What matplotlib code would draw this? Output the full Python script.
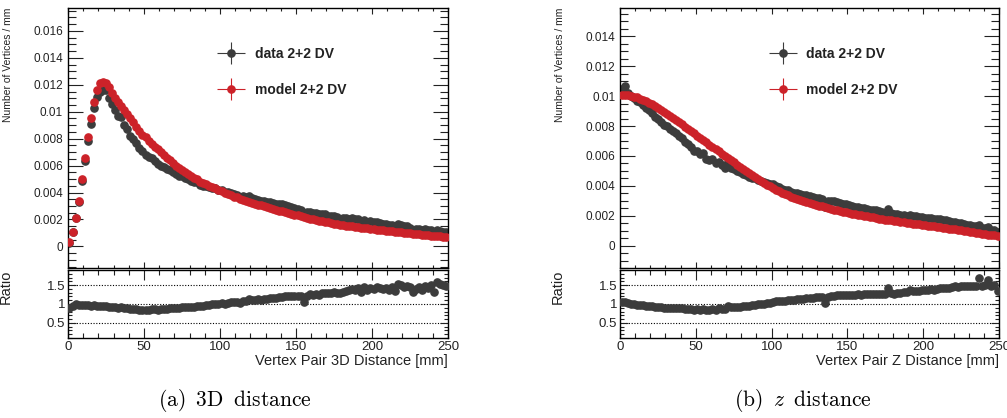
import numpy as np
import matplotlib
matplotlib.use("Agg")
import matplotlib.pyplot as plt
from matplotlib.ticker import MultipleLocator, FuncFormatter
from matplotlib.legend_handler import HandlerErrorbar

# bin centres, 2 mm bins from 0 to 250 mm
bin_centres = list(range(1, 250, 2))
bin_half = 1.0

# (a) 3D distance
model_3d = [
    0.0003, 0.0011, 0.0021, 0.0034, 0.0050, 0.0066, 0.0081, 0.0095, 0.0107, 0.0116,
    0.0121, 0.0122, 0.0121, 0.0118, 0.0114, 0.0110, 0.0107, 0.0104, 0.0101, 0.0098,
    0.0095, 0.0092, 0.0089, 0.0086, 0.0083, 0.0081, 0.0078, 0.0076, 0.0074, 0.0072,
    0.0070, 0.0068, 0.0066, 0.0064, 0.0062, 0.0060, 0.0058, 0.0057, 0.0055, 0.0054,
    0.0052, 0.0051, 0.0050, 0.0048, 0.0047, 0.0046, 0.0045, 0.0044, 0.0043, 0.0042,
    0.0041, 0.0040, 0.0039, 0.0038, 0.0037, 0.00365, 0.00355, 0.00347, 0.0034, 0.00332,
    0.00325, 0.00318, 0.00311, 0.00304, 0.00297, 0.0029, 0.00284, 0.00278, 0.00272, 0.00266,
    0.00262, 0.00255, 0.00248, 0.00242, 0.00236, 0.0023, 0.00224, 0.00218, 0.00212, 0.00207,
    0.00202, 0.00197, 0.00192, 0.00187, 0.00182, 0.00178, 0.00174, 0.0017, 0.00166, 0.00162,
    0.00158, 0.00155, 0.00152, 0.00149, 0.00146, 0.00143, 0.0014, 0.00137, 0.00134, 0.00131,
    0.00128, 0.00125, 0.00122, 0.0012, 0.00117, 0.00115, 0.00112, 0.0011, 0.00107, 0.00105,
    0.00102, 0.001, 0.00097, 0.00095, 0.00093, 0.0009, 0.00088, 0.00086, 0.00084, 0.00081,
    0.00079, 0.00077, 0.00075, 0.00073, 0.00071,
]
data_3d = [
    0.00027, 0.00105, 0.0021, 0.0033, 0.00485, 0.00635, 0.00785, 0.0091, 0.0103, 0.0111,
    0.0115, 0.0116, 0.0116, 0.0110, 0.0106, 0.0101, 0.0097, 0.0096, 0.0090, 0.0087,
    0.0082, 0.0080, 0.00765, 0.0073, 0.00705, 0.0068, 0.00665, 0.00655, 0.00635, 0.0061,
    0.0060, 0.0059, 0.00575, 0.00565, 0.0055, 0.0054, 0.0052, 0.0052, 0.00505, 0.0050,
    0.00485, 0.00475, 0.00475, 0.00455, 0.0045, 0.00445, 0.0044, 0.00435, 0.0043, 0.0042,
    0.00418, 0.00405, 0.00405, 0.0040, 0.00388, 0.0038, 0.00366, 0.00371, 0.00367, 0.00372,
    0.00358, 0.0035, 0.00348, 0.0034, 0.00336, 0.00331, 0.00327, 0.00325, 0.00316, 0.00314,
    0.00312, 0.00306, 0.0030, 0.0029, 0.00288, 0.00281, 0.00269, 0.00229, 0.00259, 0.00259,
    0.0025, 0.00248, 0.0024, 0.00239, 0.00237, 0.00228, 0.00226, 0.00224, 0.00216, 0.00207,
    0.0021, 0.00209, 0.00207, 0.00209, 0.00201, 0.00203, 0.00185, 0.00197, 0.00185, 0.00187,
    0.00179, 0.00181, 0.00173, 0.00168, 0.00167, 0.00159, 0.00161, 0.00149, 0.00163, 0.00158,
    0.00149, 0.00148, 0.0014, 0.00124, 0.0013, 0.00131, 0.00121, 0.00126, 0.00119, 0.00122,
    0.00104, 0.00122, 0.00114, 0.0011, 0.00105,
]

# (b) z distance
model_z = [
    0.0101, 0.01009, 0.01006, 0.01002, 0.00997, 0.00991, 0.00984, 0.00976, 0.00967, 0.00957,
    0.00946, 0.00934, 0.00922, 0.00909, 0.00896, 0.00883, 0.00869, 0.00855, 0.00841, 0.00826,
    0.00811, 0.00796, 0.00781, 0.00766, 0.00751, 0.00736, 0.00721, 0.00706, 0.00691, 0.00676,
    0.00661, 0.00646, 0.00631, 0.00616, 0.00601, 0.00586, 0.00571, 0.00556, 0.00541, 0.00527,
    0.00513, 0.00499, 0.00485, 0.00471, 0.00458, 0.00445, 0.00432, 0.0042, 0.00408, 0.00396,
    0.00385, 0.00374, 0.00364, 0.00354, 0.00345, 0.00336, 0.00328, 0.0032, 0.00312, 0.00305,
    0.00298, 0.00291, 0.00285, 0.00279, 0.00273, 0.00267, 0.00262, 0.00256, 0.00251, 0.00246,
    0.00241, 0.00236, 0.00231, 0.00227, 0.00222, 0.00218, 0.00214, 0.0021, 0.00206, 0.00202,
    0.00198, 0.00195, 0.00191, 0.00188, 0.00184, 0.00181, 0.00177, 0.00174, 0.00171, 0.00168,
    0.00165, 0.00162, 0.00159, 0.00156, 0.00153, 0.0015, 0.00147, 0.00144, 0.00142, 0.00139,
    0.00136, 0.00134, 0.00131, 0.00129, 0.00126, 0.00123, 0.0012, 0.00117, 0.00114, 0.00111,
    0.00108, 0.00104, 0.00101, 0.00098, 0.00095, 0.00092, 0.00089, 0.00086, 0.00083, 0.0008,
    0.00077, 0.00074, 0.00071, 0.00068, 0.00065,
]
data_z = [
    0.0105, 0.0107, 0.0102, 0.0100, 0.00985, 0.0097, 0.0096, 0.0094, 0.0092, 0.0091,
    0.0089, 0.0086, 0.0085, 0.0083, 0.0081, 0.0080, 0.0078, 0.0077, 0.0075, 0.0073,
    0.0072, 0.0069, 0.0068, 0.0066, 0.0063, 0.0063, 0.0061, 0.0062, 0.0058, 0.0057,
    0.0058, 0.0055, 0.0056, 0.0054, 0.0052, 0.0056, 0.0052, 0.0051, 0.0050, 0.0049,
    0.0048, 0.00475, 0.0046, 0.00455, 0.0045, 0.0044, 0.0043, 0.00425, 0.0042, 0.0041,
    0.0041, 0.0040, 0.0039, 0.0038, 0.00375, 0.0037, 0.0036, 0.00355, 0.0035, 0.00345,
    0.0034, 0.0034, 0.0033, 0.00325, 0.0032, 0.00315, 0.0031, 0.0026, 0.0030, 0.00298,
    0.00295, 0.0029, 0.00285, 0.0028, 0.00276, 0.0027, 0.00265, 0.0026, 0.00258, 0.00252,
    0.0025, 0.00245, 0.0024, 0.0024, 0.00235, 0.0023, 0.00225, 0.0022, 0.00243, 0.00215,
    0.0021, 0.0021, 0.00207, 0.00205, 0.0020, 0.00205, 0.00197, 0.00195, 0.0019, 0.00192,
    0.00185, 0.00185, 0.00182, 0.00178, 0.00176, 0.00175, 0.0017, 0.00168, 0.00162, 0.0016,
    0.00158, 0.0015, 0.00148, 0.00145, 0.0014, 0.00135, 0.00132, 0.00128, 0.00139, 0.00118,
    0.00115, 0.00121, 0.00105, 0.00102, 0.00088,
]

# rough error-bar sizes (only visible in the legend)
data_err = 0.0001
model_err = 0.00003

GREY = "#3c3c3c"
RED = "#cc2229"
plt.rcParams["font.family"] = ["Liberation Sans", "DejaVu Sans"]
plt.rcParams["mathtext.fontset"] = "cm"


def fmt(v, pos):
    return "%g" % round(v, 6)


def styleAxis(ax, ymajor, yminor, ylen, xlen):
    ax.tick_params(which="both", direction="in", top=True, right=True,
                   labelsize=8.5, colors="#222222", width=0.8)
    ax.tick_params(axis="y", which="major", length=ylen[0])
    ax.tick_params(axis="y", which="minor", length=ylen[1])
    ax.tick_params(axis="x", which="major", length=xlen[0])
    ax.tick_params(axis="x", which="minor", length=xlen[1])
    ax.xaxis.set_major_locator(MultipleLocator(50))
    ax.xaxis.set_minor_locator(MultipleLocator(10))
    ax.yaxis.set_major_locator(MultipleLocator(ymajor))
    ax.yaxis.set_minor_locator(MultipleLocator(yminor))
    ax.yaxis.set_major_formatter(FuncFormatter(fmt))
    for s in ax.spines.values():
        s.set_linewidth(1.0)


def drawPanel(fig, left, width, data, model, ylim, xlabel, caption, capx):
    top = fig.add_axes([left, 0.3589, width, 0.622])
    bot = fig.add_axes([left, 0.1914, width, 0.1627])
    x = np.array(bin_centres)
    d = np.array(data)
    m = np.array(model)

    h1 = top.errorbar(x, d, xerr=bin_half, yerr=data_err, fmt="o", ms=5.2,
                      color=GREY, ecolor=GREY, elinewidth=0.8, capsize=0,
                      label="data 2+2 DV", zorder=2)
    h2 = top.errorbar(x, m, xerr=bin_half, yerr=model_err, fmt="o", ms=5.2,
                      color=RED, ecolor=RED, elinewidth=0.8, capsize=0,
                      label="model 2+2 DV", zorder=3)
    top.set_xlim(0, 250)
    top.set_ylim(*ylim)
    styleAxis(top, 0.002, 0.0005, (10.5, 5.5), (4.5, 2.2))
    top.tick_params(labelbottom=False)
    top.set_ylabel("Number of Vertices / mm", fontsize=7.5, loc="top", color="#222222")
    top.yaxis.set_label_coords(-0.145, 1.0)
    leg = top.legend(handles=[h1, h2], loc="upper left", bbox_to_anchor=(0.393, 0.85),
                     frameon=False, borderpad=0, borderaxespad=0, handlelength=2.0,
                     handletextpad=0.7, labelspacing=1.55, numpoints=1,
                     handler_map={type(h1): HandlerErrorbar(xerr_size=1.0, yerr_size=0.8)},
                     prop={"weight": "bold", "size": 10})
    for t in leg.get_texts():
        t.set_color("#222222")

    ratio = d / m
    bot.plot(x, ratio, "o", ms=5.2, color=GREY, zorder=3)
    for lvl in (0.5, 1.0, 1.5):
        bot.axhline(lvl, color="black", linestyle=(0, (1, 1.5)), linewidth=0.8, zorder=1)
    bot.set_xlim(0, 250)
    bot.set_ylim(0.1, 1.9)
    styleAxis(bot, 0.5, 0.1, (6, 3), (7, 3.5))
    bot.tick_params(axis="x", labelsize=9.5, pad=2)
    bot.tick_params(axis="y", labelsize=9.5, pad=2)
    bot.set_ylabel("Ratio", fontsize=10.5, loc="top", color="#222222")
    bot.yaxis.set_label_coords(-0.145, 1.0)
    bot.set_xlabel(xlabel, fontsize=10.5, loc="right", color="#222222")
    bot.xaxis.set_label_coords(1.0, -0.23)

    fig.text(capx, 0.043, caption, fontsize=15.5, ha="center", va="center")


fig = plt.figure(figsize=(10.07, 4.18), dpi=100)
drawPanel(fig, 0.0675, 0.3774, data_3d, model_3d, (-0.0016, 0.0177),
          "Vertex Pair 3D Distance [mm]", r"$\mathrm{(a)}\;\;\mathrm{3D}\;\;\mathrm{distance}$", 0.233)
drawPanel(fig, 0.6157, 0.3764, data_z, model_z, (-0.0015, 0.0159),
          "Vertex Pair Z Distance [mm]", r"$\mathrm{(b)}\;\;z\;\;\mathrm{distance}$", 0.797)
fig.savefig("out.png", dpi=100)
